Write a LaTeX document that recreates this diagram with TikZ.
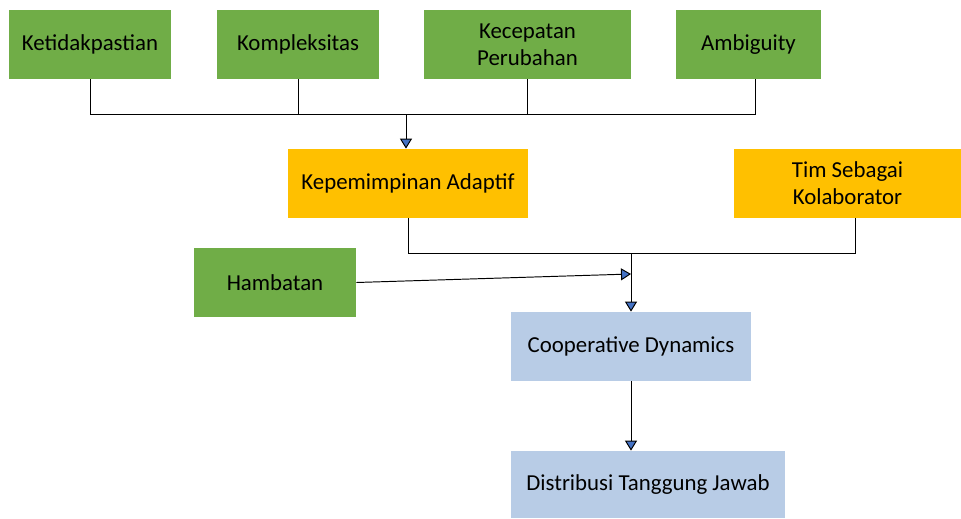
\documentclass[tikz,border=0pt]{standalone}
\usepackage{fontspec}
\setmainfont{Carlito}
\usepackage{xcolor}
\usetikzlibrary{arrows.meta,positioning}
\definecolor{boxgreen}{HTML}{70AD47}
\definecolor{boxorange}{HTML}{FFC000}
\definecolor{boxblue}{HTML}{B8CCE6}
\definecolor{tipblue}{HTML}{4472C4}
\tikzset{
  box/.style={rectangle, minimum height=1.38cm, inner sep=2pt, align=center, font=\fontsize{13}{15.5}\selectfont},
  gbox/.style={box, fill=boxgreen},
  obox/.style={box, fill=boxorange},
  bbox/.style={box, fill=boxblue},
  link/.style={line width=0.55pt},
  arr/.style={link, -{Triangle[width=0.24cm, length=0.2cm, fill=tipblue]}}
}
\begin{document}
\begin{tikzpicture}
\useasboundingbox (0,0) rectangle (19.22,-10.36);
%kotak atas
  \node[gbox, minimum width=3.24cm] (ketidakpastian) at (1.80,-0.89) {Ketidakpastian};
  \node[gbox, minimum width=3.24cm] (kompleksitas) at (5.96,-0.89) {Kompleksitas};
  \node[gbox, minimum width=4.14cm] (kecepatan) at (10.55,-0.89) {Kecepatan\\Perubahan};
  \node[gbox, minimum width=2.90cm] (ambiguity) at (14.97,-0.89) {Ambiguity};
%kotak tengah
  \node[obox, minimum width=4.80cm] (kepemimpinan) at (8.16,-3.67) {Kepemimpinan Adaptif};
  \node[obox, minimum width=4.54cm] (tim) at (16.95,-3.67) {Tim Sebagai\\Kolaborator};
  \node[gbox, minimum width=3.24cm] (hambatan) at (5.50,-5.65) {Hambatan};
%kotak bawah
  \node[bbox, minimum width=4.80cm] (cooperative) at (12.62,-6.93) {Cooperative Dynamics};
  \node[bbox, minimum width=5.48cm, minimum height=1.34cm] (distribusi) at (12.96,-9.69) {Distribusi Tanggung Jawab};
%garis atas
  \coordinate (busA) at (1.80,-2.28);
  \coordinate (busB) at (15.10,-2.28);
  \coordinate (busC) at (8.12,-2.28);
  \draw[link] (ketidakpastian.south) -- (busA) -- (busB) -- (busB |- ambiguity.south);
  \draw[link] (kompleksitas.south) -- (kompleksitas.south |- busA);
  \draw[link] (kecepatan.south) -- (kecepatan.south |- busA);
  \draw[arr] (busC) -- (busC |- kepemimpinan.north);
%garis tengah
  \coordinate (busD) at (8.16,-5.06);
  \coordinate (busE) at (17.10,-5.06);
  \coordinate (busF) at (12.62,-5.06);
  \coordinate (hit) at (12.62,-5.48);
  \draw[link] (kepemimpinan.south) -- (busD) -- (busE) -- (busE |- tim.south);
  \draw[arr] (busF) -- (cooperative.north);
  \draw[arr] (hambatan.east) -- (hit);
%garis bawah
  \draw[arr] (cooperative.south) -- (distribusi.north -| cooperative.south);
\end{tikzpicture}
\end{document}
